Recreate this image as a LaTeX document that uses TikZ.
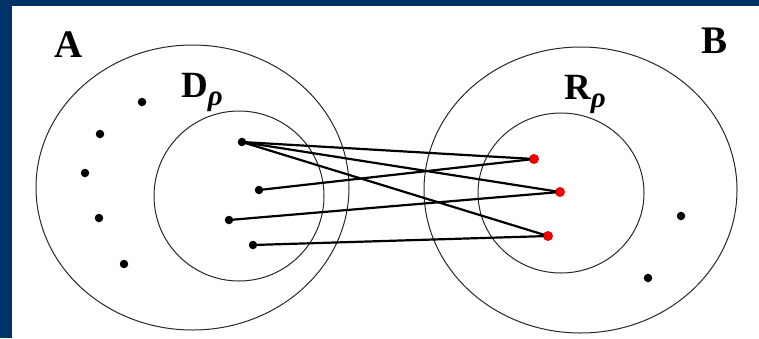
\documentclass[tikz,border=0pt]{standalone}
\usepackage{fontspec}
\setmainfont{Liberation Serif}
\usepackage{tikz}
\usetikzlibrary{positioning}
\definecolor{slidenavy}{RGB}{0,51,102}
\definecolor{ringgrey}{RGB}{40,40,40}
\definecolor{imgred}{RGB}{240,0,0}

\begin{document}
\begin{tikzpicture}[x=1pt,y=-1pt,
  ring/.style={draw=ringgrey,line width=1pt},
  dot/.style={circle,fill=black,inner sep=0pt,minimum size=8.5pt},
  hit/.style={circle,fill=imgred,inner sep=0pt,minimum size=10pt},
  link/.style={black,line width=2.2pt,shorten <=-1pt,shorten >=-1pt},
  setlbl/.style={font=\fontsize{39}{39}\selectfont\bfseries,inner sep=0pt},
  sublbl/.style={font=\fontsize{37}{37}\selectfont\bfseries,inner sep=0pt,anchor=base west}]

\useasboundingbox (0,0) rectangle (759,338);
\fill[white] (0,0) rectangle (759,338);
\fill[slidenavy] (0,0) rectangle (12,338);
\fill[slidenavy] (0,0) rectangle (759,6);

\draw[ring] (192.5,187.5) ellipse [x radius=156.5, y radius=142.5];
\draw[ring] (239,196) ellipse [x radius=85, y radius=85];
\draw[ring] (580.5,190) ellipse [x radius=156.5, y radius=143];
\draw[ring] (561,193) ellipse [x radius=83, y radius=80];

\node[setlbl] (A) at (69,45) {A};
\node[setlbl] (B) at (714,41) {B};
\node[sublbl] (Dr) at (181,97) {D\lower8pt\hbox{\fontsize{29}{29}\selectfont\itshape ρ}};
\node[sublbl] (Rr) at (564,99) {R\lower8pt\hbox{\fontsize{29}{29}\selectfont\itshape ρ}};

\node[dot] (a1) at (142,102) {};
\node[dot] (a2) at (100,134) {};
\node[dot] (a3) at (85,173) {};
\node[dot] (a4) at (99,218) {};
\node[dot] (a5) at (124,264) {};

\node[dot] (d1) at (242,142) {};
\node[dot] (d2) at (259,190) {};
\node[dot] (d3) at (229,220) {};
\node[dot] (d4) at (253,245) {};

\node[hit] (r1) at (534,159) {};
\node[hit] (r2) at (560,192) {};
\node[hit] (r3) at (548,236) {};

\node[dot] (b1) at (681,216) {};
\node[dot] (b2) at (648,278) {};

\foreach \a/\b in {d1/r1, d1/r2, d1/r3, d2/r1, d3/r2, d4/r3}
  \draw[link] (\a)--(\b);
\end{tikzpicture}
\end{document}
